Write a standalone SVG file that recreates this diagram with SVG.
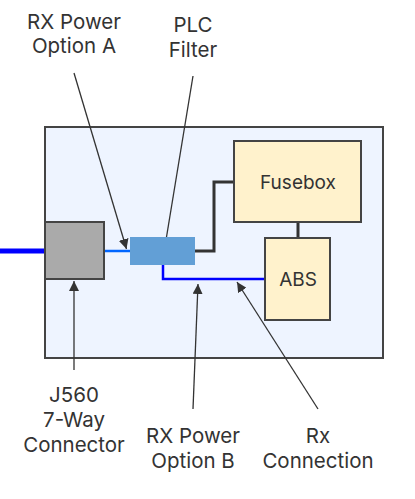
<svg xmlns="http://www.w3.org/2000/svg" width="415" height="499" viewBox="0 0 415 499">
<defs>
<style>
text{font-family:Inter,"Noto Sans","Liberation Sans",sans-serif;font-size:19px;fill:#333;text-anchor:middle}
#labels text{font-size:20.5px}
.box{stroke:#444;stroke-width:2}
.ptr{fill:none;stroke:#333;stroke-width:1.3}
</style>
<marker id="ah" viewBox="0 0 10 10" refX="10" refY="5" markerWidth="10" markerHeight="10" markerUnits="userSpaceOnUse" orient="auto">
<path d="M0,0 L10,5 L0,10 z" fill="#333"/>
</marker>
</defs>
<rect width="415" height="499" fill="#fff"/>
<g id="enclosure"><rect x="45" y="127" width="338" height="231" fill="#eef4ff" class="box"/></g>
<g id="connectors">
<line x1="0" y1="251" x2="46" y2="251" stroke="#0000ff" stroke-width="5"/>
<line x1="104" y1="251" x2="130" y2="251" stroke="#0066ff" stroke-width="2.5"/>
<polyline points="195,251 214,251 214,182 234,182" fill="none" stroke="#333" stroke-width="3"/>
<line x1="298" y1="222" x2="298" y2="238" stroke="#333" stroke-width="3"/>
<polyline points="163,265 163,279 265,279" fill="none" stroke="#0000ff" stroke-width="2.5"/>
<line class="ptr" x1="74" y1="73" x2="126.5" y2="249" marker-end="url(#ah)"/>
<line class="ptr" x1="193" y1="76" x2="166" y2="240"/>
<line class="ptr" x1="74" y1="370" x2="74" y2="281" marker-end="url(#ah)"/>
<line class="ptr" x1="193" y1="409" x2="198" y2="284" marker-end="url(#ah)"/>
<line class="ptr" x1="318" y1="409" x2="237" y2="282" marker-end="url(#ah)"/>
</g>
<g id="j560"><rect x="45" y="222" width="59" height="57" fill="#aaaaaa" class="box"/></g>
<g id="plc"><rect x="130" y="237" width="65" height="28" fill="#629fd6"/></g>
<g id="fusebox"><rect x="234" y="141" width="127" height="81" fill="#fff2cc" class="box"/><text x="298" y="189">Fusebox</text></g>
<g id="abs"><rect x="265" y="238" width="65" height="82" fill="#fff2cc" class="box"/><text x="298" y="286">ABS</text></g>
<g id="labels">
<text x="74" y="29">RX Power</text><text x="74" y="53">Option A</text>
<text x="193" y="32">PLC</text><text x="193" y="57">Filter</text>
<text x="74" y="402">J560</text><text x="74" y="427">7-Way</text><text x="74" y="452">Connector</text>
<text x="193" y="443">RX Power</text><text x="193" y="468">Option B</text>
<text x="318" y="443">Rx</text><text x="318" y="468">Connection</text>
</g>
</svg>
